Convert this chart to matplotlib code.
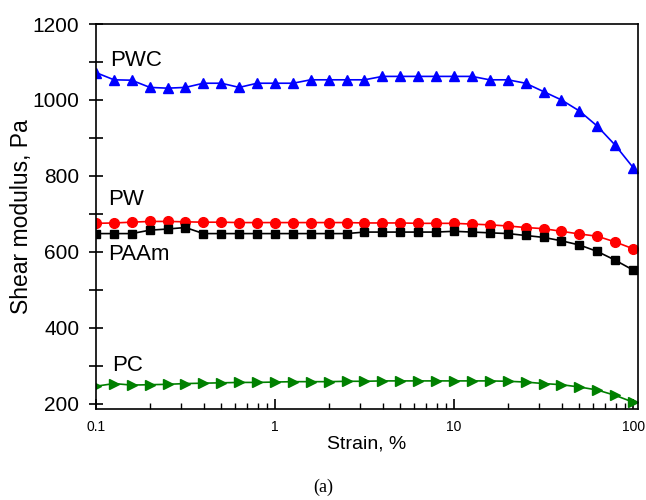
import numpy as np
import matplotlib
matplotlib.use("Agg")
import matplotlib.pyplot as plt
from matplotlib.ticker import LogLocator, FixedLocator, MultipleLocator

plt.rcParams['font.family'] = ['Liberation Sans', 'DejaVu Sans']

# strain, % (10 points per decade, 0.1 to 100)
strain = [0.1, 0.126, 0.158, 0.2, 0.251, 0.316, 0.398, 0.501, 0.631, 0.794,
          1.0, 1.26, 1.58, 2.0, 2.51, 3.16, 3.98, 5.01, 6.31, 7.94,
          10.0, 12.6, 15.8, 20.0, 25.1, 31.6, 39.8, 50.1, 63.1, 79.4, 100.0]

pwc = [1072, 1053, 1052, 1033, 1031, 1033, 1044, 1044, 1033, 1044,
       1044, 1044, 1053, 1053, 1053, 1053, 1062, 1062, 1062, 1062,
       1062, 1062, 1053, 1053, 1044, 1022, 1000, 971, 931, 881, 822]
pw = [675, 676, 678, 680, 680, 679, 678, 678, 677, 677,
      677, 677, 677, 677, 677, 676, 676, 676, 675, 675,
      675, 673, 671, 668, 664, 661, 654, 647, 641, 626, 608]
paam = [648, 648, 648, 657, 660, 664, 648, 648, 648, 648,
        648, 648, 648, 648, 648, 652, 652, 652, 652, 652,
        654, 652, 650, 648, 643, 638, 629, 618, 601, 578, 552]
pc = [246, 253, 249, 250, 251, 253, 254, 255, 256, 256,
      257, 258, 258, 258, 259, 259, 260, 260, 260, 260,
      260, 260, 260, 259, 257, 253, 250, 244, 236, 222, 204]

fig = plt.figure(figsize=(6.46, 5.0), dpi=100)
ax = fig.add_axes([0.1486, 0.182, 0.839, 0.770])

ax.plot(strain, pwc, color='#0000ff', marker='^', markersize=7.5, lw=1.2)
ax.plot(strain, pw, color='#ff0000', marker='o', markersize=7, lw=1.2)
ax.plot(strain, paam, color='black', marker='s', markersize=6, lw=1.2)
ax.plot(strain, pc, color='#008000', marker='>', markersize=7.5, lw=1.2)

ax.text(0.1197, 1105, 'PWC', fontsize=16, va='center', ha='left')
ax.text(0.1175, 739, 'PW', fontsize=16, va='center', ha='left')
ax.text(0.1165, 594, 'PAAm', fontsize=16, va='center', ha='left')
ax.text(0.1235, 301, 'PC', fontsize=16, va='center', ha='left')

ax.set_xscale('log')
ax.set_xlim(0.1, 106.5)
ax.set_ylim(186, 1200)
ax.xaxis.set_major_locator(FixedLocator([0.1, 1, 10, 100]))
ax.set_xticklabels(['0.1', '1', '10', '100'])
ax.xaxis.set_minor_locator(LogLocator(base=10, subs=np.arange(2, 10)))
ax.xaxis.set_minor_formatter(plt.NullFormatter())
ax.yaxis.set_major_locator(MultipleLocator(200))
ax.yaxis.set_minor_locator(MultipleLocator(100))

ax.tick_params(axis='x', which='major', direction='in', length=7, width=1.2, labelsize=10, pad=8)
ax.tick_params(axis='x', which='minor', direction='in', length=4, width=1)
ax.tick_params(axis='y', which='major', direction='inout', length=10, width=1.2, labelsize=15, pad=7)
ax.tick_params(axis='y', which='minor', direction='inout', length=10, width=1.2)
for s in ax.spines.values():
    s.set_linewidth(1.2)

ax.set_xlabel('Strain, %', fontsize=14, labelpad=1)
ax.set_ylabel('Shear modulus, Pa', fontsize=16.5)
ax.yaxis.set_label_coords(-0.117, 0.5)

fig.text(0.5, 0.026, '(a)', fontsize=13, ha='center', va='center', family='Liberation Serif')

fig.savefig('out.png', dpi=100)
